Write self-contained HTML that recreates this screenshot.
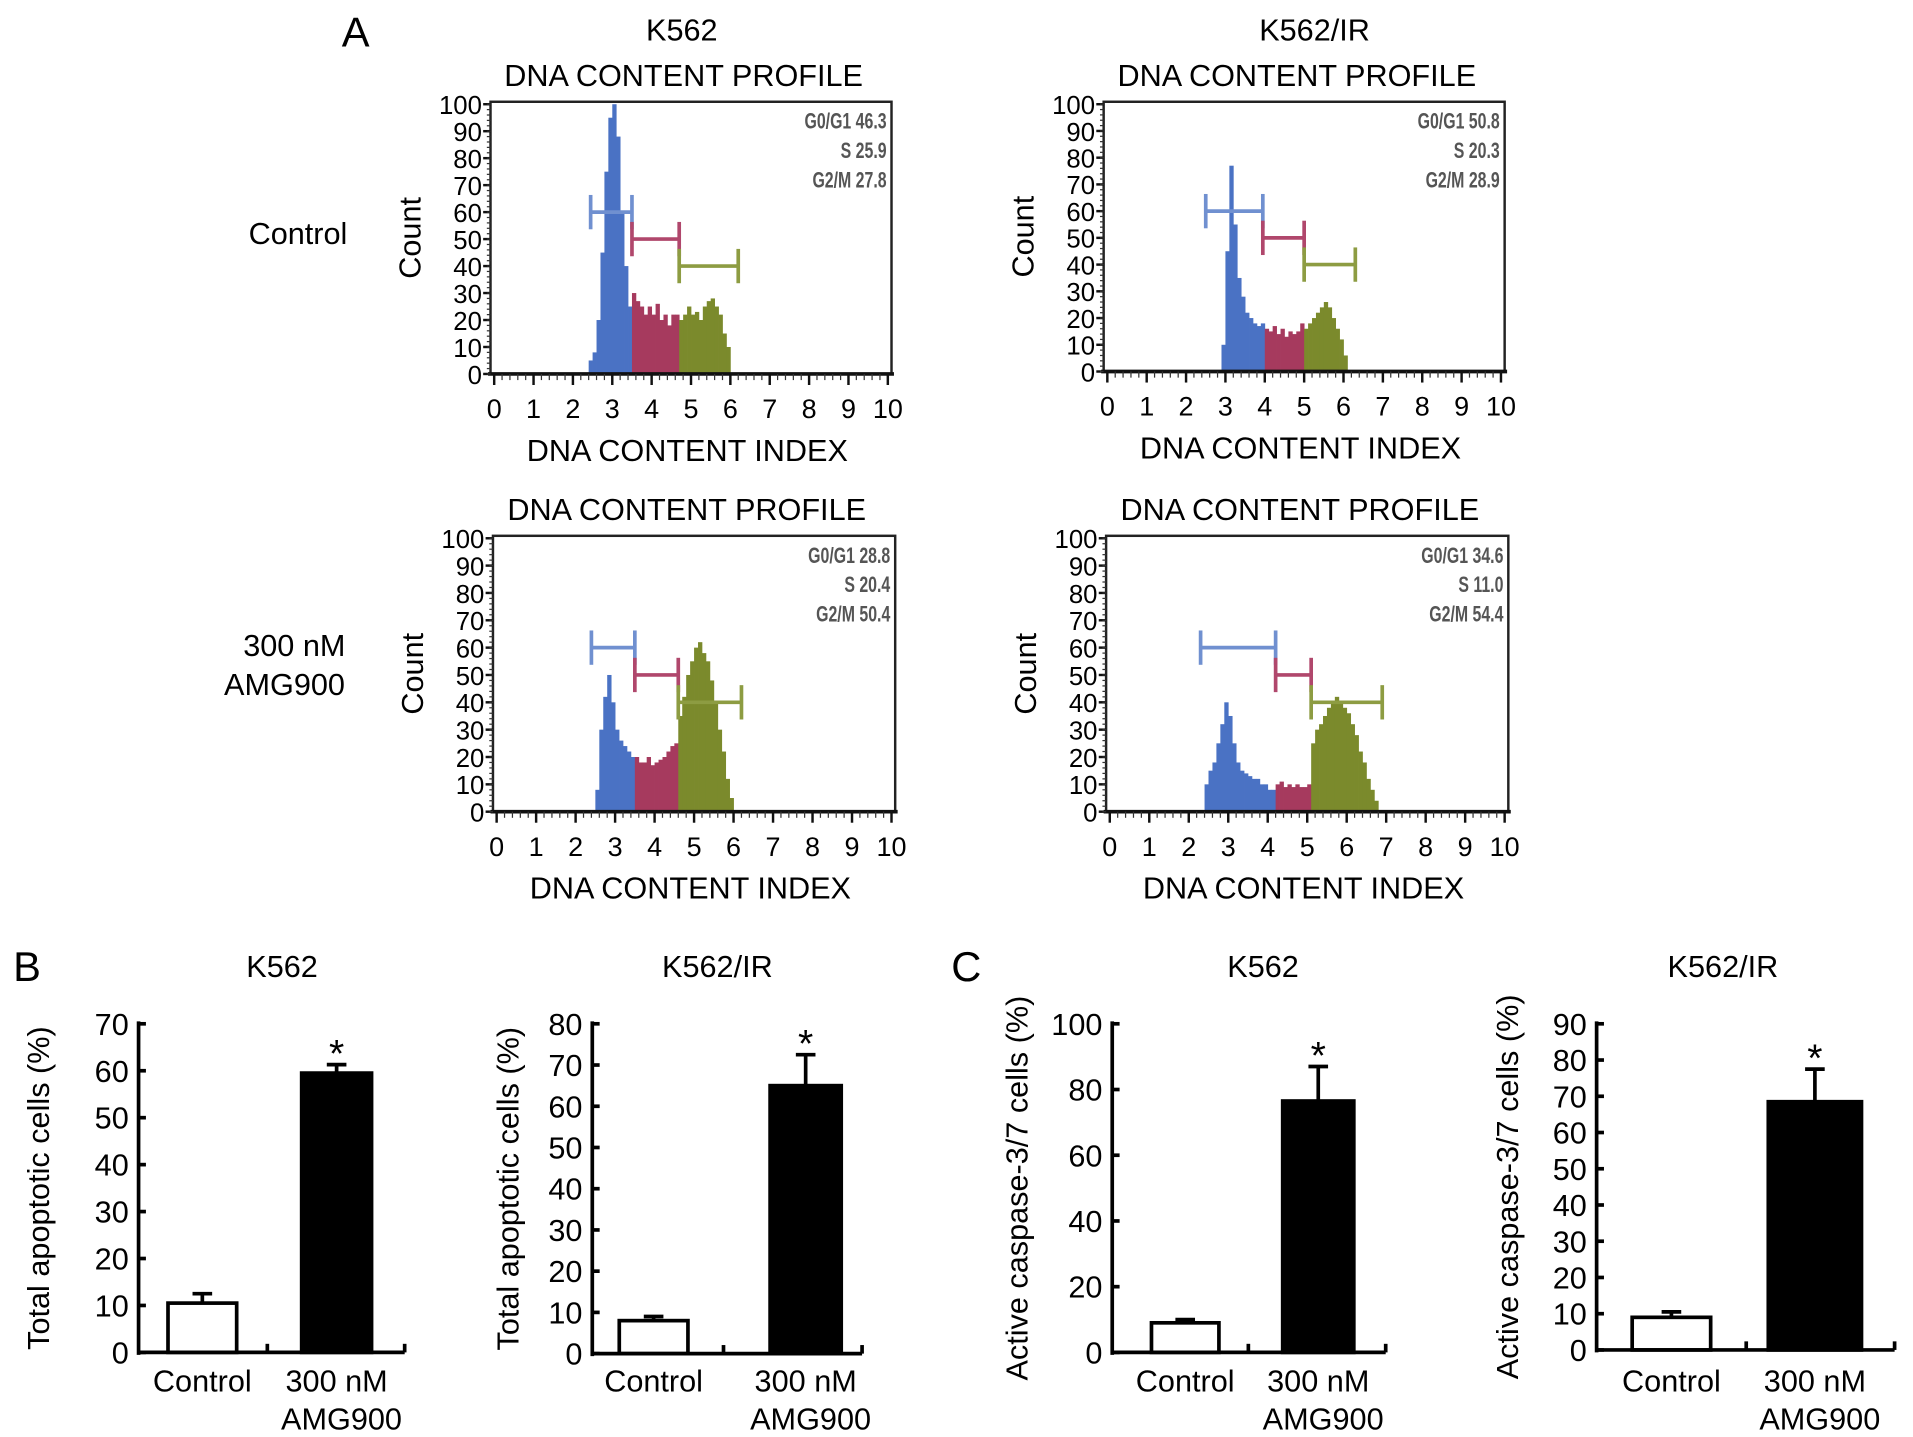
<!DOCTYPE html>
<html><head><meta charset="utf-8"><style>
html,body{margin:0;padding:0;background:#fff;}
svg{display:block;font-family:"Liberation Sans",sans-serif;}
</style></head><body>
<svg id="fig" width="1913" height="1437" viewBox="0 0 1560 1172" preserveAspectRatio="none" xmlns="http://www.w3.org/2000/svg">
<text x="290" y="38" font-size="34" text-anchor="middle">A</text>
<text x="556" y="33" font-size="25" text-anchor="middle">K562</text>
<text x="1072" y="33" font-size="25" text-anchor="middle">K562/IR</text>
<text x="243" y="199" font-size="25" text-anchor="middle">Control</text>
<text x="240" y="535" font-size="25" text-anchor="middle">300 nM</text>
<text x="232" y="567" font-size="25" text-anchor="middle">AMG900</text>
<text x="22" y="800" font-size="34" text-anchor="middle">B</text>
<text x="788" y="800" font-size="34" text-anchor="middle">C</text>
<g id="plots"></g>
</svg>
<script>
// ---------- histogram data ----------
const h1Start = 2.4;
const h1Counts = [5,8,20,45,75,95,100,88,60,40,25, 30,27,25,22,25,22,26,20,22,18,22, 22,20,22,25,22,23,20,25,27,28,25,22,15,10];
const h1Gates = [[2.45,3.5,60],[3.5,4.7,50],[4.7,6.2,40]];
const h1Stats = ["G0/G1 46.3","S 25.9","G2/M 27.8"];

const h2Start = 2.9;
const h2Counts = [10,45,77,55,35,28,22,20,18,17, 18,16,15,17,14,16,13,15,14,15, 18,16,18,20,22,24,26,24,20,16,12,6];
const h2Gates = [[2.5,3.95,60],[3.95,5.0,50],[5.0,6.3,40]];
const h2Stats = ["G0/G1 50.8","S 20.3","G2/M 28.9"];

const h3Start = 2.5;
const h3Counts = [8,30,42,50,40,30,26,24,22,20, 20,18,18,20,17,18,19,20,22,24,25, 35,42,50,55,60,62,58,55,48,40,30,22,12,5];
const h3Gates = [[2.4,3.5,60],[3.5,4.6,50],[4.6,6.2,40]];
const h3Stats = ["G0/G1 28.8","S 20.4","G2/M 50.4"];

const h4Start = 2.4;
const h4Counts = [10,15,18,25,32,40,35,25,18,15,14,13,12,12,10,10,8,8, 10,11,9,10,9,10,9,9,10, 25,30,32,35,38,40,42,40,38,36,32,28,22,18,12,8,4];
const h4Gates = [[2.3,4.2,60],[4.2,5.1,50],[5.1,6.9,40]];
const h4Stats = ["G0/G1 34.6","S 11.0","G2/M 54.4"];

const histXTicks = [0,1,2,3,4,5,6,7,8,9,10];
const histYTicks = [0,10,20,30,40,50,60,70,80,90,100];

// ---------- bar data ----------
const barCategories = ["Control","300 nM|AMG900"];
const b1Values = [10.5,59.5]; const b1Errors = [2.0,1.8]; const b1Ticks = [0,10,20,30,40,50,60,70];
const b2Values = [8,65];      const b2Errors = [1.0,7.5]; const b2Ticks = [0,10,20,30,40,50,60,70,80];
const c1Values = [9,76.5];    const c1Errors = [1.0,10.5]; const c1Ticks = [0,20,40,60,80,100];
const c2Values = [9,68.5];    const c2Errors = [1.5,9.0]; const c2Ticks = [0,10,20,30,40,50,60,70,80,90];

const NS = "http://www.w3.org/2000/svg";
const root = document.getElementById('plots');
function mk(tag, attrs, parent, text){
  const e = document.createElementNS(NS, tag);
  for (const k in attrs) e.setAttribute(k, attrs[k]);
  if (text !== undefined) e.textContent = text;
  (parent||root).appendChild(e);
  return e;
}
const fillCols = ["#4a72c4","#a63a5e","#7b8a2c"];
const gateCols = ["#7090d0","#b0476c","#8d9c42"];

function histogram(name, box, start, counts, gates, stats){
  const g = mk('g', {});
  
  
  const xs = v => box.x0 + 3 + v * (box.x1 - box.x0 - 6) / 10;
  const ys = v => box.y1 - v * (box.y1 - box.y0 - 2) / 100;
  const t = mk('text', {x:(box.x0+box.x1)/2-6, y:box.y0-13, 'font-size':25, 'text-anchor':'middle'}, g, 'DNA CONTENT PROFILE');
  
  
  const step = 0.1;
  counts.forEach((c, i) => {
    const v = start + i * step;
    let gi = 0;
    for (let k = 0; k < gates.length; k++) if (v + 0.001 >= gates[k][0]) gi = k;
    const r = mk('rect', {x:xs(v), y:ys(c), width:xs(v+step)-xs(v)+0.3, height:ys(0)-ys(c), fill:fillCols[gi]}, g);
    
    
  });
  gates.forEach((gt, k) => {
    const gg = mk('g', {stroke:gateCols[k], 'stroke-width':3, fill:'none'}, g);
    
    
    const y = ys(gt[2]);
    mk('line', {x1:xs(gt[0]), x2:xs(gt[1]), y1:y, y2:y}, gg);
    mk('line', {x1:xs(gt[0]), x2:xs(gt[0]), y1:y-14, y2:y+14}, gg);
    mk('line', {x1:xs(gt[1]), x2:xs(gt[1]), y1:y-14, y2:y+14}, gg);
  });
  const b = mk('rect', {x:box.x0, y:box.y0, width:box.x1-box.x0, height:box.y1-box.y0, fill:'none', stroke:'#222', 'stroke-width':2}, g);
  
  
  mk('line', {x1:box.x0-2, x2:box.x1+2, y1:box.y1, y2:box.y1, stroke:'#111', 'stroke-width':3}, g);
  stats.forEach((s, i) => {
    const st = mk('text', {x:box.x1-4, y:box.y0+22+i*24, 'font-size':18, 'text-anchor':'end', fill:'#555', 'font-weight':'bold', transform:`translate(${box.x1-4} 0) scale(0.72 1) translate(${-(box.x1-4)} 0)`}, g, s);
    
    
  });
  histYTicks.forEach(v => {
    mk('line', {x1:box.x0-6, x2:box.x0, y1:ys(v), y2:ys(v), stroke:'#111', 'stroke-width':2}, g);
    const tl = mk('text', {x:box.x0-7, y:ys(v)+8, 'font-size':21, 'text-anchor':'end'}, g, String(v));
    
    
  });
  for (let v = 0; v <= 100; v += 2) mk('line', {x1:box.x0-3, x2:box.x0, y1:ys(v), y2:ys(v), stroke:'#333', 'stroke-width':1}, g);
  for (let v = 0; v <= 10.001; v += 0.2) mk('line', {x1:xs(v), x2:xs(v), y1:box.y1, y2:box.y1+5, stroke:'#333', 'stroke-width':1}, g);
  histXTicks.forEach(v => {
    mk('line', {x1:xs(v), x2:xs(v), y1:box.y1, y2:box.y1+9, stroke:'#111', 'stroke-width':2}, g);
    const tl = mk('text', {x:xs(v), y:box.y1+36, 'font-size':22, 'text-anchor':'middle'}, g, String(v));
    
    
  });
  const xl = mk('text', {x:(box.x0+box.x1)/2-3, y:box.y1+71, 'font-size':25, 'text-anchor':'middle'}, g, 'DNA CONTENT INDEX');
  
  
  const cy = (box.y0+box.y1)/2;
  const yl = mk('text', {x:box.x0-57, y:cy, 'font-size':25, 'text-anchor':'middle', transform:`rotate(-90 ${box.x0-57} ${cy})`}, g, 'Count');
  
  
}

histogram('histogram-k562-control', {x0:400,x1:727,y0:83,y1:305}, h1Start, h1Counts, h1Gates, h1Stats);
histogram('histogram-k562ir-control', {x0:900,x1:1227,y0:83,y1:303}, h2Start, h2Counts, h2Gates, h2Stats);
histogram('histogram-k562-amg900', {x0:402,x1:730,y0:437,y1:662}, h3Start, h3Counts, h3Gates, h3Stats);
histogram('histogram-k562ir-amg900', {x0:902,x1:1230,y0:437,y1:662}, h4Start, h4Counts, h4Gates, h4Stats);

function barChart(name, cfg, values, errors, ticks, title, ylabel){
  const g = mk('g', {});
  
  
  const max = ticks[ticks.length-1];
  const ys = v => cfg.y1 - v * (cfg.y1 - cfg.y0) / max;
  const tt = mk('text', {x:cfg.tx, y:797, 'font-size':25, 'text-anchor':'middle'}, g, title);
  
  
  values.forEach((v, i) => {
    const [bx0, bx1] = cfg.bars[i];
    const cx = (bx0+bx1)/2;
    const e = errors[i];
    const err = mk('g', {stroke:'#000', 'stroke-width':3}, g);
    
    
    mk('line', {x1:cx, x2:cx, y1:ys(v), y2:ys(v+e)}, err);
    mk('line', {x1:cx-8, x2:cx+8, y1:ys(v+e), y2:ys(v+e)}, err);
    const r = mk('rect', {x:bx0, y:ys(v), width:bx1-bx0, height:ys(0)-ys(v), fill:i===0?'#fff':'#000', stroke:'#000', 'stroke-width':3}, g);
    
    
    if (i === 1) {
      const s = mk('text', {x:cx, y:ys(v+e)+2, 'font-size':32, 'text-anchor':'middle'}, g, '*');
      
      
    }
    const parts = barCategories[i].split('|');
    parts.forEach((p, j) => {
      const lx = i===0 ? cx : cx + (j===1 ? 4 : 0);
      const lt = mk('text', {x:lx, y:1135+j*31, 'font-size':25, 'text-anchor':'middle'}, g, p);
      
      
    });
  });
  mk('line', {x1:cfg.ax, x2:cfg.ax, y1:cfg.y0-2, y2:cfg.y1+2, stroke:'#000', 'stroke-width':3}, g);
  mk('line', {x1:cfg.ax, x2:cfg.axEnd, y1:cfg.y1, y2:cfg.y1, stroke:'#000', 'stroke-width':3}, g);
  mk('line', {x1:cfg.mid, x2:cfg.mid, y1:cfg.y1, y2:cfg.y1-7, stroke:'#000', 'stroke-width':3}, g);
  mk('line', {x1:cfg.axEnd, x2:cfg.axEnd, y1:cfg.y1, y2:cfg.y1-7, stroke:'#000', 'stroke-width':3}, g);
  ticks.forEach(v => {
    mk('line', {x1:cfg.ax, x2:cfg.ax+6, y1:ys(v), y2:ys(v), stroke:'#000', 'stroke-width':3}, g);
    const tl = mk('text', {x:cfg.ax-8, y:ys(v)+9, 'font-size':25, 'text-anchor':'end'}, g, String(v));
    
    
  });
  const cy = (cfg.y0+cfg.y1)/2;
  const yl = mk('text', {x:cfg.lx, y:cy, 'font-size':25, 'text-anchor':'middle', transform:`rotate(-90 ${cfg.lx} ${cy})`}, g, ylabel);
  
  
}

barChart('bar-chart-b-k562', {ax:113, axEnd:330, mid:218, y0:835, y1:1103, bars:[[137,193],[246,303]], tx:230, lx:40}, b1Values, b1Errors, b1Ticks, 'K562', 'Total apoptotic cells (%)');
barChart('bar-chart-b-k562ir', {ax:483, axEnd:703, mid:590, y0:835, y1:1104, bars:[[505,561],[628,686]], tx:585, lx:423}, b2Values, b2Errors, b2Ticks, 'K562/IR', 'Total apoptotic cells (%)');
barChart('bar-chart-c-k562', {ax:907, axEnd:1130, mid:1018, y0:835, y1:1103, bars:[[939,994],[1046,1104]], tx:1030, lx:838}, c1Values, c1Errors, c1Ticks, 'K562', 'Active caspase-3/7 cells (%)');
barChart('bar-chart-c-k562ir', {ax:1302, axEnd:1545, mid:1424, y0:835, y1:1101, bars:[[1331,1395],[1442,1518]], tx:1405, lx:1238}, c2Values, c2Errors, c2Ticks, 'K562/IR', 'Active caspase-3/7 cells (%)');
</script>
</body></html>
